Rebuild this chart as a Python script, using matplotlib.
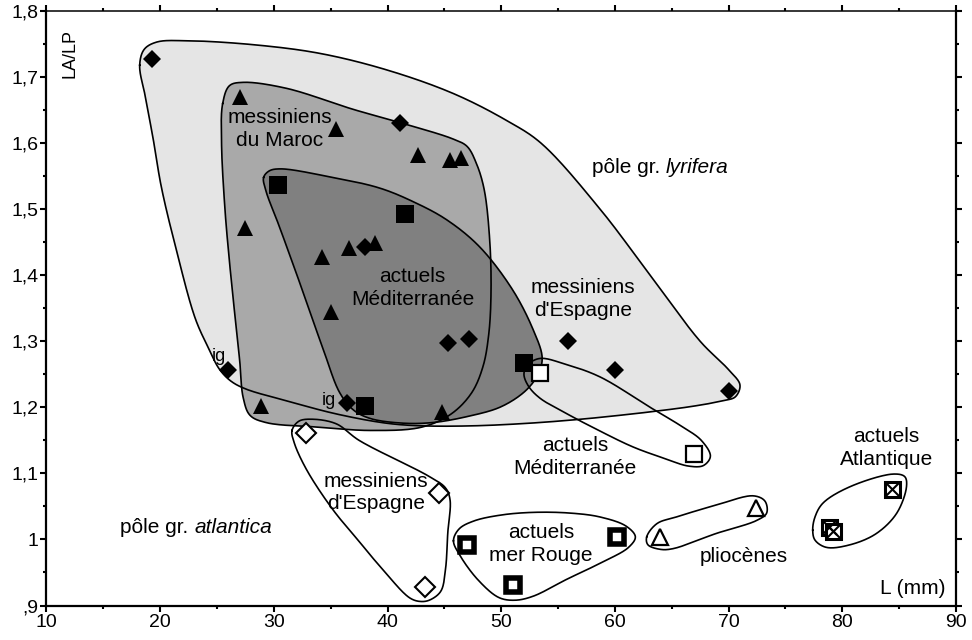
import numpy as np
import matplotlib
matplotlib.use("Agg")
import matplotlib.pyplot as plt
from matplotlib.ticker import MultipleLocator, FuncFormatter

plt.rcParams["font.family"] = ["Liberation Sans", "DejaVu Sans"]

# --- points (L in mm, LA/LP) ---
# messiniens d'Espagne (filled diamonds), pole lyrifera
esp_x = [19.25, 41.1, 38.0, 45.3, 47.2, 55.9, 60.0, 70.0, 26.0, 36.4]
esp_y = [1.727, 1.631, 1.442, 1.297, 1.304, 1.300, 1.256, 1.224, 1.256, 1.206]
# messiniens du Maroc (filled triangles)
mar_x = [27.0, 35.45, 42.7, 45.5, 46.5, 27.45, 34.25, 36.6, 38.9, 35.0, 28.9, 44.8]
mar_y = [1.670, 1.622, 1.582, 1.574, 1.577, 1.472, 1.428, 1.441, 1.449, 1.344, 1.202, 1.193]
# actuels Mediterranee, groupe lyrifera (filled squares)
medl_x = [30.4, 41.5, 52.0, 38.0]
medl_y = [1.536, 1.492, 1.267, 1.202]
# actuels Mediterranee, groupe atlantica (open squares)
meda_x = [53.4, 67.0]
meda_y = [1.252, 1.129]
# messiniens d'Espagne, groupe atlantica (open diamonds)
espa_x = [32.8, 44.5, 43.3]
espa_y = [1.161, 1.070, 0.928]
# actuels mer Rouge (thick squares)
rouge_x = [47.0, 51.0, 60.2]
rouge_y = [0.992, 0.931, 1.004]
# pliocenes (open triangles)
plio_x = [64.0, 72.4]
plio_y = [1.003, 1.047]
# actuels Atlantique (crossed squares)
atl_x = [84.4, 78.8, 79.2]
atl_y = [1.076, 1.019, 1.013]

# --- hand drawn envelopes (control points) ---
lyr_env_x = [18.2, 18.6, 19.7, 22.3, 28.2, 34.0, 39.9, 45.8, 50.5, 53.5, 58.7, 63.1, 67.5,
             70.0, 71.0, 70.6, 69.5, 67.0, 64.0, 61.0, 57.0, 52.5, 47.5, 43.0, 39.9, 35.5,
             31.1, 27.5, 26.2, 25.2, 24.3, 23.1, 21.4, 20.1, 19.4, 18.7]
lyr_env_y = [1.718, 1.742, 1.753, 1.755, 1.749, 1.736, 1.711, 1.675, 1.634, 1.600, 1.500, 1.400, 1.300,
             1.257, 1.234, 1.216, 1.210, 1.202, 1.195, 1.189, 1.182, 1.176, 1.172, 1.172, 1.176, 1.190,
             1.210, 1.228, 1.240, 1.258, 1.288, 1.334, 1.440, 1.534, 1.605, 1.670]
mar_env_x = [25.5, 26.1, 27.3, 31.1, 37.0, 41.1, 45.8, 47.0, 47.8, 48.5, 49.0, 49.1, 48.9, 48.4,
             47.4, 45.6, 43.0, 38.5, 34.0, 29.3, 27.9, 27.3, 27.0, 26.6, 26.1, 25.7, 25.4]
mar_env_y = [1.660, 1.687, 1.692, 1.683, 1.651, 1.631, 1.606, 1.595, 1.570, 1.530, 1.450, 1.370, 1.310, 1.262,
             1.222, 1.190, 1.170, 1.165, 1.170, 1.177, 1.188, 1.215, 1.270, 1.335, 1.420, 1.500, 1.600]
medl_env_x = [29.1, 29.6, 30.6, 34.9, 39.3, 42.3, 45.2, 48.1, 51.0, 52.8, 53.6, 53.3, 52.2, 50.0,
              47.0, 44.0, 41.4, 38.5, 37.0, 35.8, 34.4, 32.6, 30.5, 29.3]
medl_env_y = [1.548, 1.558, 1.561, 1.549, 1.532, 1.511, 1.484, 1.443, 1.378, 1.318, 1.276, 1.252, 1.226, 1.201,
              1.186, 1.177, 1.176, 1.183, 1.196, 1.222, 1.285, 1.373, 1.473, 1.528]
meda_env_x = [52.3, 53.4, 55.7, 58.7, 63.1, 65.8, 67.6, 68.4, 67.8, 66.5, 64.3, 61.6, 58.7, 55.7,
              53.4, 52.4, 52.0]
meda_env_y = [1.264, 1.274, 1.265, 1.246, 1.200, 1.172, 1.150, 1.126, 1.112, 1.111, 1.123, 1.140, 1.164, 1.191,
              1.214, 1.232, 1.250]
espa_env_x = [31.6, 32.2, 33.4, 35.5, 37.5, 43.7, 45.1, 45.5, 45.3, 45.1, 44.7, 43.8, 43.0, 42.0,
              39.6, 37.5, 35.2, 32.9, 31.8]
espa_env_y = [1.165, 1.179, 1.182, 1.175, 1.150, 1.095, 1.078, 1.060, 1.010, 0.955, 0.922, 0.909, 0.906, 0.911,
              0.954, 0.997, 1.045, 1.105, 1.146]
rouge_env_x = [45.8, 46.3, 47.6, 50.0, 52.8, 56.0, 58.7, 61.0, 61.8, 61.2, 58.7, 55.8, 52.8, 51.2,
               49.8, 48.0, 46.4]
rouge_env_y = [0.998, 1.016, 1.028, 1.037, 1.041, 1.040, 1.034, 1.020, 1.004, 0.988, 0.964, 0.940, 0.914, 0.908,
               0.912, 0.938, 0.975]
plio_env_x = [62.8, 63.7, 65.4, 68.9, 72.2, 73.2, 73.35, 72.5, 68.9, 65.1, 64.0, 62.9]
plio_env_y = [1.004, 1.024, 1.034, 1.052, 1.066, 1.058, 1.040, 1.029, 1.009, 0.986, 0.985, 0.992]
atl_env_x = [77.4, 77.6, 78.3, 80.7, 84.5, 85.5, 85.65, 84.8, 83.0, 80.7, 78.6, 77.6]
atl_env_y = [1.014, 1.034, 1.055, 1.080, 1.099, 1.095, 1.080, 1.040, 1.009, 0.992, 0.988, 0.999]

# px per unit, used so the spline is smooth on screen and not in data units
SX, SY = 11.37, 660.5


def smooth_closed(xs, ys, n=24):
    # closed centripetal catmull-rom through the control points
    P = np.column_stack([np.asarray(xs) * SX, np.asarray(ys) * SY])
    N = len(P)
    out = []
    for i in range(N):
        p0, p1, p2, p3 = P[i - 1], P[i], P[(i + 1) % N], P[(i + 2) % N]
        t0 = 0.0
        t1 = t0 + np.linalg.norm(p1 - p0) ** 0.5
        t2 = t1 + np.linalg.norm(p2 - p1) ** 0.5
        t3 = t2 + np.linalg.norm(p3 - p2) ** 0.5
        t = np.linspace(t1, t2, n, endpoint=False)[:, None]
        a1 = (t1 - t) / (t1 - t0) * p0 + (t - t0) / (t1 - t0) * p1
        a2 = (t2 - t) / (t2 - t1) * p1 + (t - t1) / (t2 - t1) * p2
        a3 = (t3 - t) / (t3 - t2) * p2 + (t - t2) / (t3 - t2) * p3
        b1 = (t2 - t) / (t2 - t0) * a1 + (t - t0) / (t2 - t0) * a2
        b2 = (t3 - t) / (t3 - t1) * a2 + (t - t1) / (t3 - t1) * a3
        c = (t2 - t) / (t2 - t1) * b1 + (t - t1) / (t2 - t1) * b2
        out.append(c)
    out = np.vstack(out + [out[0][:1]])
    return out[:, 0] / SX, out[:, 1] / SY


fig = plt.figure(figsize=(9.72, 6.4), dpi=100)
ax = fig.add_axes([0.0478, 0.0539, 0.9357, 0.9289])

envelopes = [
    (lyr_env_x, lyr_env_y, "#e5e5e5"),
    (mar_env_x, mar_env_y, "#a9a9a9"),
    (medl_env_x, medl_env_y, "#808080"),
    (meda_env_x, meda_env_y, "none"),
    (espa_env_x, espa_env_y, "none"),
    (rouge_env_x, rouge_env_y, "none"),
    (plio_env_x, plio_env_y, "none"),
    (atl_env_x, atl_env_y, "none"),
]
curves = [smooth_closed(ex, ey) for ex, ey, _ in envelopes]
for (cx, cy), (_, _, fc) in zip(curves, envelopes):
    if fc != "none":
        ax.fill(cx, cy, color=fc, lw=0, zorder=1)
for cx, cy in curves:
    ax.plot(cx, cy, color="black", lw=1.2, zorder=2)

# markers
ax.plot(esp_x, esp_y, ls="none", marker="D", ms=9.5, color="black", mew=0, zorder=3)
ax.plot(mar_x, mar_y, ls="none", marker="^", ms=11, color="black", mew=0, zorder=3)
ax.plot(medl_x, medl_y, ls="none", marker="s", ms=12.5, color="black", mew=0, zorder=3)
ax.plot(meda_x, meda_y, ls="none", marker="s", ms=11, mfc="white", mec="black", mew=1.6, zorder=3)
ax.plot(espa_x, espa_y, ls="none", marker="D", ms=10, mfc="white", mec="black", mew=1.5, zorder=3)
ax.plot(rouge_x, rouge_y, ls="none", marker="s", ms=9.5, mfc="white", mec="black", mew=4, zorder=3)
ax.plot(plio_x, plio_y, ls="none", marker="^", ms=12, mfc="white", mec="black", mew=1.6, zorder=3)
ax.plot(atl_x, atl_y, ls="none", marker="s", ms=10.8, mfc="white", mec="black", mew=2.2, zorder=3)
ax.plot(atl_x, atl_y, ls="none", marker="x", ms=10.8, mec="black", mew=1.5, zorder=3)

# labels
lab = dict(fontsize=15, ha="center", va="center", linespacing=1.25, zorder=4)
ax.text(30.5, 1.621, "messiniens\ndu Maroc", **lab)
ax.text(42.2, 1.381, "actuels\nMéditerranée", **lab)
ax.text(57.2, 1.364, "messiniens\nd'Espagne", **lab)
ax.text(56.5, 1.125, "actuels\nMéditerranée", **lab)
ax.text(39.0, 1.071, "messiniens\nd'Espagne", **lab)
ax.text(53.5, 0.993, "actuels\nmer Rouge", **lab)
ax.text(71.3, 0.974, "pliocènes", **lab)
ax.text(83.9, 1.139, "actuels\nAtlantique", **lab)
ax.text(86.2, 0.926, "L (mm)", **lab)
ax.text(25.2, 1.277, "ig", fontsize=13, ha="center", va="center")
ax.text(34.8, 1.211, "ig", fontsize=13, ha="center", va="center")
ax.text(12.1, 1.735, "LA/LP", fontsize=13, rotation=90, ha="center", va="center")

t1 = ax.text(57.95, 1.563, "pôle gr. ", fontsize=15, ha="left", va="center")
ax.annotate("lyrifera", xy=(1, 0), xycoords=t1, fontsize=15, style="italic",
            ha="left", va="bottom")
t2 = ax.text(16.5, 1.018, "pôle gr. ", fontsize=15, ha="left", va="center")
ax.annotate("atlantica", xy=(1, 0), xycoords=t2, fontsize=15, style="italic",
            ha="left", va="bottom")

# axes
ax.set_xlim(10, 90)
ax.set_ylim(0.9, 1.8)
ax.xaxis.set_major_locator(MultipleLocator(10))
ax.xaxis.set_minor_locator(MultipleLocator(5))
ax.yaxis.set_major_locator(MultipleLocator(0.1))
ax.yaxis.set_minor_locator(MultipleLocator(0.05))


def fr_fmt(v, pos):
    s = f"{v:.1f}".replace(".", ",")
    if s.endswith(",0"):
        s = s[:-2]
    if s.startswith("0"):
        s = s[1:]
    return s


ax.yaxis.set_major_formatter(FuncFormatter(fr_fmt))
ax.tick_params(which="both", direction="out", top=True, right=True, width=1.5,
               labelsize=14, pad=2)
ax.tick_params(which="major", length=4)
ax.tick_params(which="minor", length=2)
for side in ["left", "bottom", "right"]:
    ax.spines[side].set_linewidth(1.6)
ax.spines["top"].set_linewidth(1.1)

fig.savefig("out.png", dpi=100)
